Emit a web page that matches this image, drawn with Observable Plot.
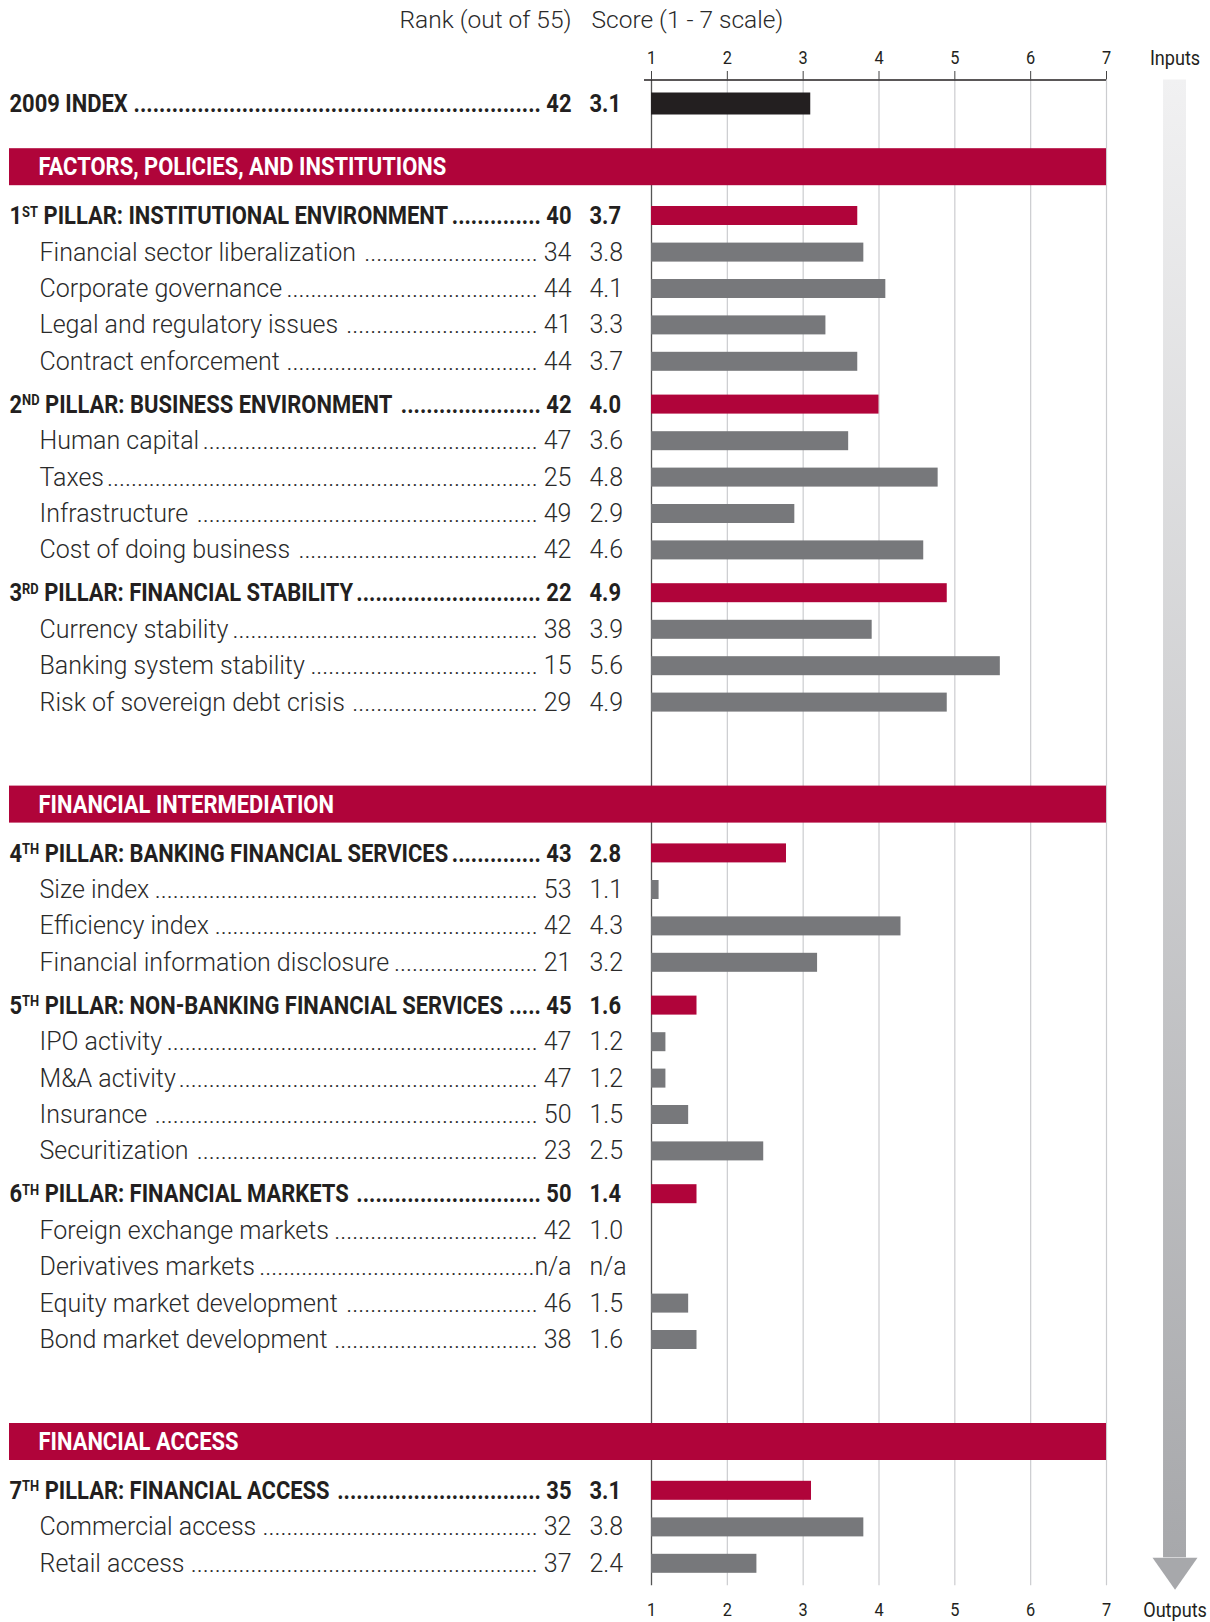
<!DOCTYPE html>
<html>
<head>
<meta charset="utf-8">
<script src="https://cdn.jsdelivr.net/npm/d3@7"></script>
<script src="https://cdn.jsdelivr.net/npm/@observablehq/plot@0.6"></script>
<style>
  html, body { margin: 0; padding: 0; background: #fff; }
  #chart svg { display: block; }
</style>
</head>
<body>
<div id="chart"></div>
<script>
// ---------------- DATA ----------------
const labels = [
  "2009 INDEX",
  "FACTORS, POLICIES, AND INSTITUTIONS",
  "1ST PILLAR: INSTITUTIONAL ENVIRONMENT",
  "Financial sector liberalization",
  "Corporate governance",
  "Legal and regulatory issues",
  "Contract enforcement",
  "2ND PILLAR: BUSINESS ENVIRONMENT",
  "Human capital",
  "Taxes",
  "Infrastructure",
  "Cost of doing business",
  "3RD PILLAR: FINANCIAL STABILITY",
  "Currency stability",
  "Banking system stability",
  "Risk of sovereign debt crisis",
  "FINANCIAL INTERMEDIATION",
  "4TH PILLAR: BANKING FINANCIAL SERVICES",
  "Size index",
  "Efficiency index",
  "Financial information disclosure",
  "5TH PILLAR: NON-BANKING FINANCIAL SERVICES",
  "IPO activity",
  "M&A activity",
  "Insurance",
  "Securitization",
  "6TH PILLAR: FINANCIAL MARKETS",
  "Foreign exchange markets",
  "Derivatives markets",
  "Equity market development",
  "Bond market development",
  "FINANCIAL ACCESS",
  "7TH PILLAR: FINANCIAL ACCESS",
  "Commercial access",
  "Retail access"
];
const kinds = [
  "index", "banner",
  "pillar", "item", "item", "item", "item",
  "pillar", "item", "item", "item", "item",
  "pillar", "item", "item", "item",
  "banner",
  "pillar", "item", "item", "item",
  "pillar", "item", "item", "item", "item",
  "pillar", "item", "item", "item", "item",
  "banner",
  "pillar", "item", "item"
];
const ranks = [
  "42", "",
  "40", "34", "44", "41", "44",
  "42", "47", "25", "49", "42",
  "22", "38", "15", "29",
  "",
  "43", "53", "42", "21",
  "45", "47", "47", "50", "23",
  "50", "42", "n/a", "46", "38",
  "",
  "35", "32", "37"
];
const scores = [
  "3.1", "",
  "3.7", "3.8", "4.1", "3.3", "3.7",
  "4.0", "3.6", "4.8", "2.9", "4.6",
  "4.9", "3.9", "5.6", "4.9",
  "",
  "2.8", "1.1", "4.3", "3.2",
  "1.6", "1.2", "1.2", "1.5", "2.5",
  "1.4", "1.0", "n/a", "1.5", "1.6",
  "",
  "3.1", "3.8", "2.4"
];
// bar lengths as drawn in the picture (score scale 1-7)
const barValues = [
  3.1, null,
  3.72, 3.8, 4.09, 3.3, 3.72,
  4.0, 3.6, 4.78, 2.89, 4.59,
  4.9, 3.91, 5.6, 4.9,
  null,
  2.78, 1.1, 4.29, 3.19,
  1.6, 1.19, 1.19, 1.49, 2.48,
  1.6, 1.0, null, 1.49, 1.6,
  null,
  3.11, 3.8, 2.39
];
const xTicks = [1, 2, 3, 4, 5, 6, 7];
const headerRank = "Rank (out of 55)";
const headerScore = "Score (1 - 7 scale)";
const inputsLabel = "Inputs";
const outputsLabel = "Outputs";

// ---------------- STYLE ----------------
const RED = "#b0043a";
const GRAY_BAR = "#77787b";
const BLACK_BAR = "#231f20";
const GRID = "#cbcccf";
const DARK = "#231f20";
const TEXT_LIGHT = "#2a2a2a";
// 'CondMarker' is not a real font: it only tags text that gets horizontally condensed
const COND_FONT = "'CondMarker', Roboto, 'Liberation Sans', sans-serif";
const LIGHT_FONT = "Roboto, 'Open Sans', 'Liberation Sans', sans-serif";
const BOLD_SIZE = 25.5;
const LIGHT_SIZE = 25;
const SUP_SIZE = 15;
const SUP_SHIFT = 7.5;

// text measuring
const ctx = document.createElement("canvas").getContext("2d");
function measure(text, font) { ctx.font = font; return ctx.measureText(text).width; }
const boldFont = `bold ${BOLD_SIZE}px ${COND_FONT}`;
const supFont = `bold ${SUP_SIZE}px ${COND_FONT}`;
const lightFont = `300 ${LIGHT_SIZE}px ${LIGHT_FONT}`;
// horizontal condensing factor, matched to the banner title width of the reference
const SX = 408 / measure(labels[1], boldFont);

// layout: vertical gaps (px) between consecutive rows, by row kind
const ROW0 = 103.5, U = 36.4;
function gapPx(prev, cur) {
  if (cur === "banner") return prev === "index" ? 63.2 : 102;
  if (cur === "pillar") return prev === "banner" ? 48.8 : 42.8;
  if (cur === "item") return prev === "pillar" ? 36.6 : 36.4;
  return 36.4;
}
const px = p => p / U;
const yPos = [];
kinds.forEach((k, i) => yPos.push(i === 0 ? 0 : yPos[i - 1] + px(gapPx(kinds[i - 1], k))));
const last = yPos[yPos.length - 1];

const FRAME_LEFT = 9;
const LABEL_DX_BOLD = 0;
const LABEL_DX_ITEM = 30;
const RANK_DX = 562;   // right edge of rank column, from frame left
const SCORE_DX = 580;  // left edge of score column

const rows = labels.map((label, i) => {
  const kind = kinds[i];
  const bold = kind !== "item";
  const f = bold ? boldFont : lightFont;
  const k = bold ? SX : 1;
  let labelW;
  if (kind === "pillar") {
    const m = label.match(/^(\d)(ST|ND|RD|TH)(.*)$/);
    labelW = (measure(m[1], boldFont) + measure(m[2], supFont) + measure(m[3], boldFont)) * SX;
  } else {
    labelW = measure(label, f) * k;
  }
  const labelEnd = (bold ? LABEL_DX_BOLD : LABEL_DX_ITEM) + labelW;
  const rankPart = (/\d/.test(ranks[i]) ? " " : "") + ranks[i];
  const avail = RANK_DX - measure(rankPart, f) * k - labelEnd - 3;
  const n = Math.max(0, Math.floor(avail / (measure(".", f) * k)));
  return {
    label, kind, y: yPos[i],
    rankText: kind === "banner" ? "" : ".".repeat(n) + rankPart,
    score: scores[i],
    bar: barValues[i]
  };
});

const boldRows = rows.filter(d => d.kind === "index" || d.kind === "pillar");
const itemRows = rows.filter(d => d.kind === "item");
const bannerRows = rows.filter(d => d.kind === "banner");
const barRows = rows.filter(d => d.bar != null);

const yHeader = px(20 - ROW0);
const yTickLabel = px(57 - ROW0);
const yTickTop = px(71 - ROW0);
const yAxis = px(79.5 - ROW0);
const yGridBottom = last + px(22);
const yBottomLabel = last + px(46);
const yHeadTop = last + px(-6);
const yTip = last + px(26);

const chart = Plot.plot({
  width: 1210,
  height: 1622,
  marginLeft: FRAME_LEFT,
  marginRight: 1210 - 1106,
  marginTop: 0,
  marginBottom: 0,
  x: { domain: [1, 7], range: [651, 1106], axis: null },
  y: { domain: [0, 1], range: [ROW0, ROW0 + U], axis: null },
  style: { background: "#fff", fontFamily: LIGHT_FONT, color: DARK },
  marks: [
    // gridlines
    Plot.ruleX(xTicks.slice(1), { y1: yAxis, y2: yGridBottom, stroke: GRID, strokeWidth: 1.2 }),
    Plot.ruleX([xTicks[0]], { y1: yAxis, y2: yGridBottom, stroke: "#555", strokeWidth: 1.3 }),
    // bars
    Plot.rect(barRows, {
      x1: xTicks[0], x2: "bar",
      y1: d => d.y - (d.kind === "index" ? px(11) : px(9.5)),
      y2: d => d.y + (d.kind === "index" ? px(11) : px(9.5)),
      fill: d => d.kind === "index" ? BLACK_BAR : d.kind === "pillar" ? RED : GRAY_BAR
    }),
    // banners
    Plot.rect(bannerRows, { y1: d => d.y - px(18.5), y2: d => d.y + px(18.5), fill: RED }),
    Plot.text(bannerRows, {
      y: "y", text: "label", frameAnchor: "left", dx: 29, textAnchor: "start",
      fill: "#fff", fontFamily: COND_FONT, fontWeight: "bold", fontSize: BOLD_SIZE
    }),
    // top axis
    Plot.ruleY([yAxis], { x1: xTicks[0], x2: xTicks[xTicks.length - 1], insetLeft: -7, stroke: DARK, strokeWidth: 1.3 }),
    Plot.ruleX(xTicks, { y1: yTickTop, y2: yAxis, stroke: "#444", strokeWidth: 1 }),
    Plot.text(xTicks, { x: d => d, y: yTickLabel, text: d => String(d), fontFamily: COND_FONT, fontWeight: 400, fontSize: 19, fill: DARK }),
    Plot.text(xTicks, { x: d => d, y: yBottomLabel, text: d => String(d), fontFamily: COND_FONT, fontWeight: 400, fontSize: 19, fill: DARK }),
    // header
    Plot.text([headerRank], { y: yHeader, text: d => d, frameAnchor: "left", dx: RANK_DX, textAnchor: "end",
      fontFamily: LIGHT_FONT, fontWeight: 300, fontSize: 24.5, fill: TEXT_LIGHT }),
    Plot.text([headerScore], { y: yHeader, text: d => d, frameAnchor: "left", dx: SCORE_DX + 2, textAnchor: "start",
      fontFamily: LIGHT_FONT, fontWeight: 300, fontSize: 24.5, fill: TEXT_LIGHT }),
    // labels
    Plot.text(boldRows, {
      y: "y", text: "label", frameAnchor: "left", dx: LABEL_DX_BOLD, textAnchor: "start",
      fontFamily: COND_FONT, fontWeight: "bold", fontSize: BOLD_SIZE, fill: DARK
    }),
    Plot.text(itemRows, {
      y: "y", text: "label", frameAnchor: "left", dx: LABEL_DX_ITEM, textAnchor: "start",
      fontFamily: LIGHT_FONT, fontWeight: 300, fontSize: LIGHT_SIZE, fill: TEXT_LIGHT
    }),
    // ranks with dot leaders
    Plot.text(boldRows, {
      y: "y", text: "rankText", frameAnchor: "left", dx: RANK_DX, textAnchor: "end",
      fontFamily: COND_FONT, fontWeight: "bold", fontSize: BOLD_SIZE, fill: DARK
    }),
    Plot.text(itemRows, {
      y: "y", text: "rankText", frameAnchor: "left", dx: RANK_DX, textAnchor: "end",
      fontFamily: LIGHT_FONT, fontWeight: 300, fontSize: LIGHT_SIZE, fill: TEXT_LIGHT
    }),
    // scores
    Plot.text(boldRows, {
      y: "y", text: "score", frameAnchor: "left", dx: SCORE_DX, textAnchor: "start",
      fontFamily: COND_FONT, fontWeight: "bold", fontSize: BOLD_SIZE, fill: DARK
    }),
    Plot.text(itemRows, {
      y: "y", text: "score", frameAnchor: "left", dx: SCORE_DX, textAnchor: "start",
      fontFamily: LIGHT_FONT, fontWeight: 300, fontSize: LIGHT_SIZE, fill: TEXT_LIGHT
    }),
    // inputs -> outputs arrow
    Plot.rect([0], { x1: 7.752, x2: 8.055, y1: yAxis, y2: yHeadTop, fill: "url(#io-grad)" }),
    Plot.line([[7.607, yHeadTop], [8.2, yHeadTop], [7.904, yTip]], {
      x: d => d[0], y: d => d[1], fill: "#a7a8ab", stroke: "none"
    }),
    Plot.text([inputsLabel], { x: 7.904, y: px(58 - ROW0), text: d => d, fontFamily: COND_FONT, fontWeight: 400, fontSize: 21, fill: DARK }),
    Plot.text([outputsLabel], { x: 7.904, y: yBottomLabel, text: d => d, fontFamily: COND_FONT, fontWeight: 400, fontSize: 21, fill: DARK })
  ]
});

// gradient definition for the arrow shaft
const ns = "http://www.w3.org/2000/svg";
const defs = document.createElementNS(ns, "defs");
const grad = document.createElementNS(ns, "linearGradient");
grad.setAttribute("id", "io-grad");
grad.setAttribute("x1", "0"); grad.setAttribute("y1", "0");
grad.setAttribute("x2", "0"); grad.setAttribute("y2", "1");
[["0%", "#f1f1f2"], ["100%", "#a7a8ab"]].forEach(([o, c]) => {
  const s = document.createElementNS(ns, "stop");
  s.setAttribute("offset", o); s.setAttribute("stop-color", c);
  grad.appendChild(s);
});
defs.appendChild(grad);
chart.insertBefore(defs, chart.firstChild);

// superscript ordinals in pillar labels
chart.querySelectorAll("text").forEach(t => {
  const m = t.textContent.match(/^(\d)(ST|ND|RD|TH)( PILLAR.*)$/);
  if (!m) return;
  t.textContent = "";
  const a = document.createElementNS(ns, "tspan"); a.textContent = m[1];
  const b = document.createElementNS(ns, "tspan"); b.textContent = m[2];
  b.setAttribute("font-size", SUP_SIZE); b.setAttribute("dy", -SUP_SHIFT);
  const c = document.createElementNS(ns, "tspan"); c.textContent = m[3];
  c.setAttribute("dy", SUP_SHIFT);
  t.append(a, b, c);
});

document.getElementById("chart").appendChild(chart);

// condense the tagged (condensed-face) texts horizontally around their anchor point
chart.querySelectorAll('g[font-family*="CondMarker"] text').forEach(t => {
  const X = parseFloat(t.getAttribute("x")) || 0;
  const T = t.getAttribute("transform") || "";
  t.setAttribute("transform", `${T} translate(${X},0) scale(${SX.toFixed(4)},1) translate(${-X},0)`.trim());
});
</script>
</body>
</html>
